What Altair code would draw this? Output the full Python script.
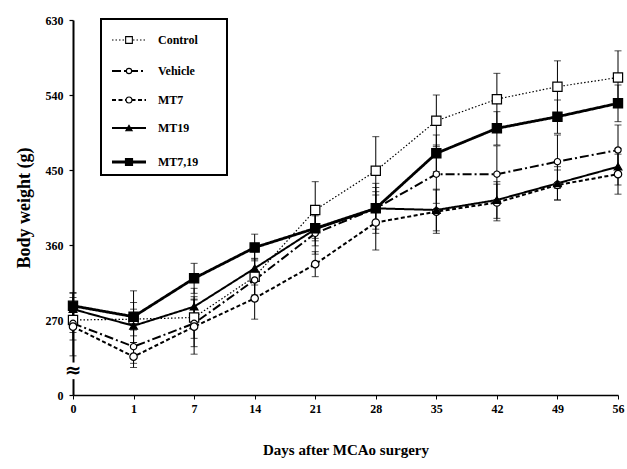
import altair as alt
import pandas as pd

# ---- data ----
days = ["0", "1", "7", "14", "21", "28", "35", "42", "49", "56"]
series_names = ["Control", "Vehicle", "MT7", "MT19", "MT7,19"]

control_mean = [270, 271, 273, 322, 402, 449, 509, 535, 550, 561]
vehicle_mean = [266, 238, 266, 318, 374, 404, 445, 445, 460, 474]
mt7_mean = [262, 226, 262, 296, 337, 387, 400, 411, 432, 445]
mt19_mean = [283, 263, 286, 332, 379, 404, 402, 414, 434, 454]
mt719_mean = [287, 274, 320, 357, 380, 404, 470, 500, 514, 530]

control_err = [15, 20, 25, 22, 34, 41, 31, 31, 31, 32]
vehicle_err = [20, 20, 28, 25, 25, 30, 35, 34, 32, 30]
mt7_err = [35, 13, 33, 25, 15, 33, 26, 22, 18, 24]
mt19_err = [20, 20, 22, 20, 20, 25, 25, 22, 20, 22]
mt719_err = [15, 31, 18, 16, 15, 20, 22, 20, 20, 22]

y_ticks = [180, 270, 360, 450, 540, 630]  # 180 is shown as "0" (broken axis)

means = [control_mean, vehicle_mean, mt7_mean, mt19_mean, mt719_mean]
errs = [control_err, vehicle_err, mt7_err, mt19_err, mt719_err]

rows = []
for name, m, e in zip(series_names, means, errs):
    for d, v, s in zip(days, m, e):
        rows.append({"series": name, "day": d, "mean": v, "lo": v - s, "hi": v + s})
df = pd.DataFrame(rows)

# ---- styles ----
style = {
    "Control": dict(dash=[1.5, 2], width=1.2, shape="square", fill="white", size=85, lsize=45),
    "Vehicle": dict(dash=[9, 3, 2, 3], width=2, shape="circle", fill="white", size=40, lsize=28),
    "MT7": dict(dash=[4, 2.5], width=2, shape="circle", fill="white", size=55, lsize=35),
    "MT19": dict(dash=[1, 0], width=2, shape="triangle-up", fill="black", size=60, lsize=40),
    "MT7,19": dict(dash=[1, 0], width=2.8, shape="square", fill="black", size=85, lsize=50),
}

FONT = "Liberation Serif"
W, H = 545, 375

xenc = alt.X(
    "day:O",
    sort=days,
    scale=alt.Scale(type="point", padding=0),
    axis=alt.Axis(
        title="Days after MCAo surgery",
        labelAngle=0,
        domainColor="black",
        domainWidth=1.5,
        tickColor="black",
        tickSize=4,
        labelFont=FONT,
        labelFontWeight="bold",
        labelFontSize=12,
        labelColor="black",
        labelPadding=4,
        titleFont=FONT,
        titleFontSize=15,
        titleFontWeight="bold",
        titleColor="black",
        titlePadding=28,
    ),
)
yscale = alt.Scale(domain=[180, 630], nice=False, zero=False)
yaxis = alt.Axis(
    values=y_ticks,
    labelExpr="datum.value == 180 ? '0' : datum.label",
    title="Body weight (g)",
    grid=False,
    domainColor="black",
    domainWidth=2,
    tickColor="black",
    tickSize=4,
    tickWidth=1.2,
    labelFont=FONT,
    labelFontWeight="bold",
    labelFontSize=12,
    labelColor="black",
    labelPadding=6,
    titleFont=FONT,
    titleFontSize=18,
    titleFontWeight="bold",
    titleColor="black",
    titlePadding=12,
)

base = alt.Chart(df)

layers = []
# error bars
layers.append(
    base.mark_rule(color="black", strokeWidth=1).encode(
        x=xenc, y=alt.Y("lo:Q", scale=yscale, axis=yaxis), y2="hi:Q"
    )
)
layers.append(
    base.mark_tick(color="black", thickness=1, size=7).encode(x=xenc, y=alt.Y("lo:Q", scale=yscale))
)
layers.append(
    base.mark_tick(color="black", thickness=1, size=7).encode(x=xenc, y=alt.Y("hi:Q", scale=yscale))
)

# lines
for name in series_names:
    st = style[name]
    layers.append(
        base.transform_filter(alt.datum.series == name)
        .mark_line(color="black", strokeDash=st["dash"], strokeWidth=st["width"])
        .encode(x=xenc, y=alt.Y("mean:Q", scale=yscale))
    )
# markers
for name in series_names:
    st = style[name]
    layers.append(
        base.transform_filter(alt.datum.series == name)
        .mark_point(shape=st["shape"], filled=True, fill=st["fill"], stroke="black",
                    strokeWidth=1.2, size=st["size"], opacity=1)
        .encode(x=xenc, y=alt.Y("mean:Q", scale=yscale))
    )

# axis break symbol
brk = pd.DataFrame({"lo": [199], "hi": [219], "mid": [209]})
layers.append(
    alt.Chart(brk).mark_rect(color="white").encode(
        x=alt.value(-5), x2=alt.value(5), y=alt.Y("lo:Q", scale=yscale), y2="hi:Q"
    )
)
layers.append(
    alt.Chart(brk).mark_text(text="≈", font="DejaVu Sans", fontSize=20, fontWeight="bold",
                             color="black", baseline="middle", align="center").encode(
        x=alt.value(0), y=alt.Y("mid:Q", scale=yscale)
    )
)

# legend box
one = pd.DataFrame({"k": [0]})
layers.append(
    alt.Chart(one).mark_rect(fill="white", stroke="black", strokeWidth=2).encode(
        x=alt.value(28), x2=alt.value(154), y=alt.value(-1), y2=alt.value(155)
    )
)
leg_y = [20, 51, 80, 108, 142]
for name, yy in zip(series_names, leg_y):
    st = style[name]
    layers.append(
        alt.Chart(one).mark_rule(color="black", strokeDash=st["dash"], strokeWidth=st["width"]).encode(
            x=alt.value(39), x2=alt.value(73), y=alt.value(yy)
        )
    )
    layers.append(
        alt.Chart(one).mark_point(shape=st["shape"], filled=True, fill=st["fill"], stroke="black",
                                  strokeWidth=1.1, size=st["lsize"], opacity=1).encode(
            x=alt.value(56), y=alt.value(yy)
        )
    )
    layers.append(
        alt.Chart(one).mark_text(text=name, font=FONT, fontSize=12, fontWeight="bold",
                                 color="black", align="left", baseline="middle").encode(
            x=alt.value(85), y=alt.value(yy)
        )
    )

chart = (
    alt.layer(*layers)
    .properties(
        width=W,
        height=H,
        autosize=alt.AutoSizeParams(type="none"),
        padding={"left": 73, "top": 20, "right": 9, "bottom": 74},
        background="white",
    )
    .configure_view(stroke=None)
)

chart.save("out.html", embed_options={"renderer": "svg", "actions": False})
